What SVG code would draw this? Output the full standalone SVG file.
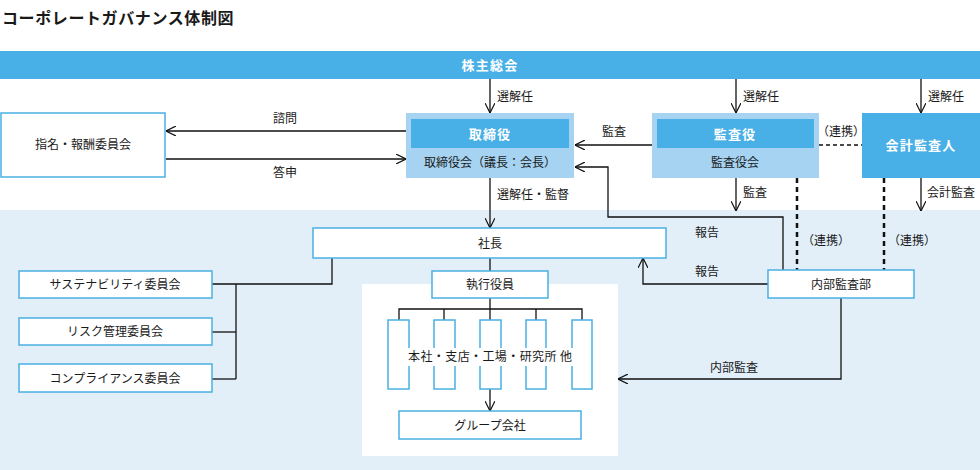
<svg xmlns="http://www.w3.org/2000/svg" width="980" height="470" viewBox="0 0 980 470">
<defs>
<style>
text{font-family:"Noto Sans CJK JP","Noto Sans",sans-serif;font-size:12px;fill:#1a1a1a;}
.c{text-anchor:middle;}
.w{fill:#fff;font-weight:bold;font-size:13px;letter-spacing:1.2px;}
.t{font-size:16px;font-weight:bold;letter-spacing:0.6px;}
.box{fill:#fff;stroke:#4ab0e4;stroke-width:1.5;}
.dark{fill:#48b0e6;}
.light{fill:#a6d3f1;}
.ln{fill:none;stroke:#111;stroke-width:1.3;}
.dash{fill:none;stroke:#111;stroke-width:1.3;stroke-dasharray:4 3;}
.dash2{fill:none;stroke:#111;stroke-width:2.5;stroke-dasharray:5 4;}
</style>
<marker id="ah" viewBox="0 0 10 10" refX="10" refY="5" markerWidth="10" markerHeight="10" markerUnits="userSpaceOnUse" orient="auto">
<path d="M0,0 L10,5 L0,10" fill="none" stroke="#111" stroke-width="1.2"/>
</marker>
</defs>
<rect x="0" y="0" width="980" height="470" fill="#fff"/>
<rect x="0" y="210" width="980" height="260" fill="#e2eff9"/>
<rect x="362" y="284" width="256" height="172" fill="#fff"/>
<text x="2" y="24" class="t">コーポレートガバナンス体制図</text>

<g id="kabunushi">
<rect x="0" y="51" width="980" height="28" class="dark"/>
<text x="490" y="70" class="c w">株主総会</text>
</g>

<g id="connectors">
<line x1="490" y1="79" x2="490" y2="113" class="ln" marker-end="url(#ah)"/>
<line x1="736" y1="79" x2="736" y2="113" class="ln" marker-end="url(#ah)"/>
<line x1="921" y1="79" x2="921" y2="113" class="ln" marker-end="url(#ah)"/>
<line x1="406" y1="131" x2="166" y2="131" class="ln" marker-end="url(#ah)"/>
<line x1="166" y1="159" x2="406" y2="159" class="ln" marker-end="url(#ah)"/>
<line x1="652" y1="145" x2="575" y2="145" class="ln" marker-end="url(#ah)"/>
<line x1="819" y1="145" x2="862" y2="145" class="dash"/>
<line x1="736" y1="178" x2="736" y2="211" class="ln" marker-end="url(#ah)"/>
<line x1="921" y1="178" x2="921" y2="211" class="ln" marker-end="url(#ah)"/>
<line x1="797" y1="178" x2="797" y2="270" class="dash2"/>
<line x1="884" y1="178" x2="884" y2="270" class="dash2"/>
<polyline points="783,270 783,217 608,217 608,167 575,167" class="ln" marker-end="url(#ah)"/>
<line x1="490" y1="178" x2="490" y2="228" class="ln" marker-end="url(#ah)"/>
<polyline points="768,284 643,284 643,258" class="ln" marker-end="url(#ah)"/>
<polyline points="841,298 841,379 618,379" class="ln" marker-end="url(#ah)"/>
<polyline points="212,284 332,284 332,258" class="ln"/>
<line x1="236" y1="284" x2="236" y2="379" class="ln"/>
<line x1="212" y1="332" x2="236" y2="332" class="ln"/>
<line x1="212" y1="379" x2="236" y2="379" class="ln"/>
<line x1="490" y1="258" x2="490" y2="271" class="ln"/>
<line x1="490" y1="298" x2="490" y2="309" class="ln"/>
<polyline points="399,320 399,309 582,309 582,320" class="ln"/>
<line x1="444" y1="309" x2="444" y2="320" class="ln"/>
<line x1="490" y1="309" x2="490" y2="320" class="ln"/>
<line x1="536" y1="309" x2="536" y2="320" class="ln"/>
<line x1="490" y1="389" x2="490" y2="411" class="ln" marker-end="url(#ah)"/>
<text x="497" y="101">選解任</text>
<text x="743" y="101">選解任</text>
<text x="928" y="101">選解任</text>
<text x="285" y="123" class="c">諮問</text>
<text x="285" y="177" class="c">答申</text>
<text x="614" y="136" class="c">監査</text>
<text x="841" y="136" class="c">（連携）</text>
<text x="743" y="197">監査</text>
<text x="927" y="197">会計監査</text>
<text x="497" y="199">選解任・監督</text>
<text x="707" y="237" class="c">報告</text>
<text x="707" y="276" class="c">報告</text>
<text x="826" y="245" class="c">（連携）</text>
<text x="912" y="245" class="c">（連携）</text>
<text x="734" y="372" class="c">内部監査</text>
</g>

<g id="shimei">
<rect x="1" y="113" width="164" height="64" class="box"/>
<text x="83" y="149" class="c">指名・報酬委員会</text>
</g>

<g id="torishimariyaku">
<rect x="406" y="113" width="168" height="65" class="light"/>
<rect x="411" y="119" width="158" height="29" class="dark"/>
<text x="490" y="139" class="c w">取締役</text>
<text x="490" y="167" class="c">取締役会（議長：会長）</text>
</g>

<g id="kansayaku">
<rect x="652" y="113" width="167" height="65" class="light"/>
<rect x="657" y="119" width="157" height="29" class="dark"/>
<text x="735" y="139" class="c w">監査役</text>
<text x="735" y="167" class="c">監査役会</text>
</g>

<g id="kaikei">
<rect x="862" y="113" width="118" height="65" class="dark"/>
<text x="921" y="150" class="c w">会計監査人</text>
</g>

<g id="shacho">
<rect x="313" y="228" width="353" height="30" class="box"/>
<text x="490" y="248" class="c">社長</text>
</g>

<g id="naibu">
<rect x="768" y="270" width="146" height="28" class="box"/>
<text x="841" y="289" class="c">内部監査部</text>
</g>

<g id="sustainability">
<rect x="19" y="271" width="193" height="27" class="box"/>
<text x="115" y="289" class="c">サステナビリティ委員会</text>
</g>
<g id="risk">
<rect x="19" y="318" width="193" height="27" class="box"/>
<text x="115" y="336" class="c">リスク管理委員会</text>
</g>
<g id="compliance">
<rect x="19" y="364" width="193" height="28" class="box"/>
<text x="115" y="383" class="c">コンプライアンス委員会</text>
</g>

<g id="shikko">
<rect x="432" y="271" width="116" height="27" class="box"/>
<text x="490" y="289" class="c">執行役員</text>
</g>

<g id="honsha">
<rect x="388" y="320" width="21" height="69" class="box"/>
<rect x="434" y="320" width="21" height="69" class="box"/>
<rect x="480" y="320" width="21" height="69" class="box"/>
<rect x="526" y="320" width="20" height="69" class="box"/>
<rect x="572" y="320" width="20" height="69" class="box"/>
<rect x="406" y="348" width="168" height="18" fill="#fff"/>
<text x="490" y="361" class="c" textLength="164" lengthAdjust="spacing">本社・支店・工場・研究所 他</text>
</g>

<g id="group">
<rect x="399" y="411" width="182" height="28" class="box"/>
<text x="490" y="430" class="c">グループ会社</text>
</g>
</svg>
